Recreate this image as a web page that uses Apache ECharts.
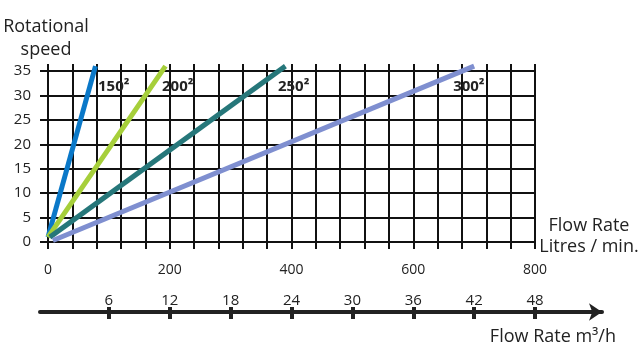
<!DOCTYPE html>
<html>
<head>
<meta charset="utf-8">
<script src="https://cdn.jsdelivr.net/npm/echarts@6/dist/echarts.min.js"></script>
<style>
html, body { margin: 0; padding: 0; background: #fff; }
#chart { width: 640px; height: 353px; }
</style>
</head>
<body>
<div id="chart"></div>
<script>
// pump curves: [flow L/min, rotational speed]
var lineNames = ['150²', '200²', '250²', '300²'];
var lineColors = ['#0a78c8', '#a6cf3a', '#26777a', '#7f8fd0'];
var line150 = [[0, 1], [78, 36]];
var line200 = [[0, 1], [193, 36]];
var line250 = [[3, 1], [390, 36]];
var line300 = [[8, 0.3], [700, 36]];
var lpmLabels = [0, 200, 400, 600, 800];
var m3hTicks = [6, 12, 18, 24, 30, 36, 42, 48];
var labelShift = [2.5, -3.5, -7.5, -21];

var font = '"Open Sans", "Noto Sans", sans-serif';
var gridLine = { color: '#111', width: 2 };

var myChart = echarts.init(document.getElementById('chart'));

function curve(i, data) {
	return {
		name: lineNames[i],
		type: 'line',
		xAxisIndex: 0,
		yAxisIndex: 0,
		data: data,
		symbol: 'none',
		clip: false,
		lineStyle: { color: lineColors[i], width: 5 },
		itemStyle: { color: lineColors[i] },
		endLabel: {
			show: true,
			formatter: lineNames[i],
			distance: 0,
			offset: [labelShift[i], 21],
			fontFamily: font,
			fontSize: 15,
			fontWeight: 'bold',
			color: '#222'
		}
	};
}

var option = {
	animation: false,
	textStyle: { fontFamily: font },
	grid: [
		{ left: 48, top: 71, width: 487, height: 171 },
		{ left: 40, top: 311, width: 562, height: 1 }
	],
	xAxis: [
		{
			gridIndex: 0, type: 'value', position: 'bottom',
			min: 0, max: 800, interval: 40,
			axisLine: { show: true, lineStyle: gridLine },
			axisTick: { show: true, length: 7, lineStyle: gridLine },
			axisLabel: {
				margin: 21, fontSize: 14, color: '#222',
				formatter: function (v) { return lpmLabels.indexOf(v) >= 0 ? String(v) : ''; }
			},
			splitLine: { show: true, lineStyle: gridLine }
		},
		{
			gridIndex: 0, type: 'value', position: 'top',
			min: 0, max: 800, interval: 40,
			axisLine: { show: false },
			axisTick: { show: true, length: 7, lineStyle: gridLine },
			axisLabel: { show: false },
			splitLine: { show: false }
		},
		{
			gridIndex: 1, type: 'value', position: 'bottom',
			min: -0.7885, max: 54.6,
			axisLine: {
				show: true, symbol: ['none', 'arrow'], symbolSize: [13, 13],
				lineStyle: { color: '#222', width: 4 }
			},
			axisTick: { show: true, length: 7, customValues: m3hTicks, lineStyle: { color: '#222', width: 4 } },
			axisLabel: { inside: true, margin: 4, fontSize: 15, color: '#222', customValues: m3hTicks },
			splitLine: { show: false }
		},
		{
			gridIndex: 1, type: 'value', position: 'top',
			min: -0.7885, max: 54.6,
			axisLine: { show: false },
			axisTick: { show: true, length: 4, customValues: m3hTicks, lineStyle: { color: '#222', width: 4 } },
			axisLabel: { show: false },
			splitLine: { show: false }
		}
	],
	yAxis: [
		{
			gridIndex: 0, type: 'value',
			min: 0, max: 35, interval: 5,
			axisLine: { show: true, lineStyle: gridLine },
			axisTick: { show: true, length: 8, lineStyle: gridLine },
			axisLabel: { margin: 17, fontSize: 15, color: '#222' },
			splitLine: { show: true, lineStyle: gridLine }
		},
		{ gridIndex: 1, type: 'value', min: 0, max: 1, show: false }
	],
	graphic: [
		{
			type: 'text', x: 46, y: 38,
			style: { text: 'Rotational\nspeed', font: '18px ' + font, lineHeight: 23, fill: '#222', textAlign: 'center', textVerticalAlign: 'middle' }
		},
		{
			type: 'text', x: 589, y: 236,
			style: { text: 'Flow Rate\nLitres / min.', font: '18px ' + font, lineHeight: 21, fill: '#222', textAlign: 'center', textVerticalAlign: 'middle' }
		},
		{
			type: 'text', x: 616, y: 337,
			style: { text: 'Flow Rate m³/h', font: '18px ' + font, fill: '#222', textAlign: 'right', textVerticalAlign: 'middle' }
		}
	],
	series: [
		curve(0, line150),
		curve(1, line200),
		curve(2, line250),
		curve(3, line300)
	]
};

myChart.setOption(option);
window.onresize = myChart.resize;
</script>
</body>
</html>
